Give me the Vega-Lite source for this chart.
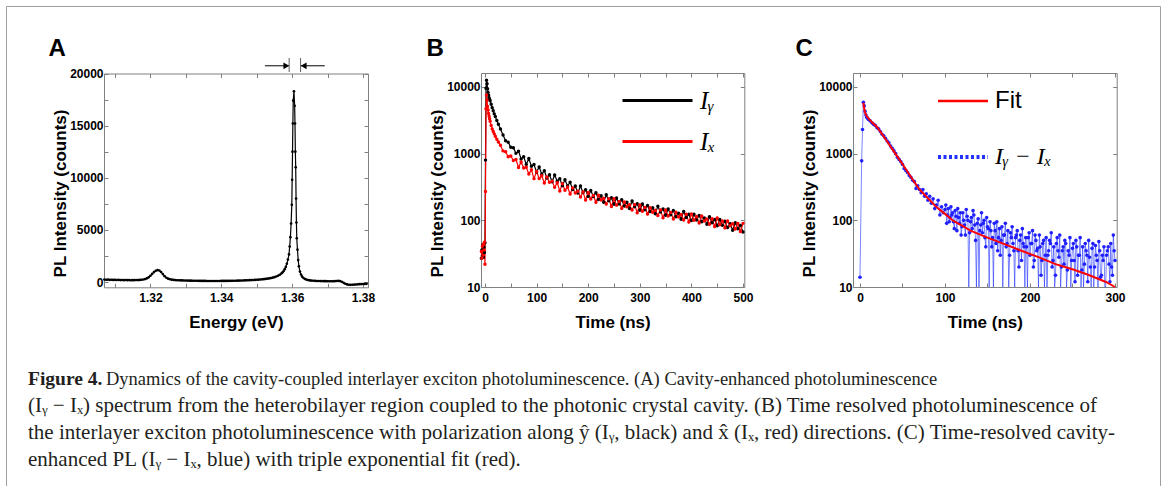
{
  "$schema": "https://vega.github.io/schema/vega-lite/v6.json",
  "width": 1154,
  "height": 480,
  "autosize": {"type": "none"},
  "padding": {"left": 6, "top": 6, "right": 3, "bottom": 0},
  "background": "white",
  "config": {
    "view": {"stroke": "#a0a0a0", "strokeWidth": 1},
    "axis": {
      "labelFont": "Liberation Sans", "labelFontWeight": "bold", "labelFontSize": 12, "labelColor": "black",
      "titleFont": "Liberation Sans", "titleFontWeight": "bold", "titleFontSize": 17, "titleColor": "black",
      "domainColor": "#808080", "tickColor": "#808080", "grid": false, "labelFlush": false, "labelOverlap": false, "tickSize": -4
    }
  },
  "datasets": {
    "spectrum": [
      {"energy":1.3070,"counts":240},{"energy":1.3075,"counts":215},{"energy":1.3080,"counts":230},{"energy":1.3085,"counts":205},{"energy":1.3090,"counts":220},{"energy":1.3095,"counts":200},{"energy":1.3100,"counts":210},{"energy":1.3105,"counts":195},{"energy":1.3110,"counts":205},{"energy":1.3115,"counts":185},{"energy":1.3120,"counts":195},{"energy":1.3125,"counts":180},{"energy":1.3130,"counts":190},{"energy":1.3135,"counts":175},{"energy":1.3140,"counts":185},{"energy":1.3145,"counts":170},{"energy":1.3150,"counts":180},{"energy":1.3155,"counts":175},{"energy":1.3160,"counts":190},{"energy":1.3165,"counts":185},{"energy":1.3170,"counts":200},{"energy":1.3175,"counts":215},{"energy":1.3180,"counts":240},{"energy":1.3185,"counts":280},{"energy":1.3190,"counts":350},{"energy":1.3195,"counts":450},{"energy":1.3200,"counts":600},{"energy":1.3205,"counts":780},{"energy":1.3210,"counts":950},{"energy":1.3215,"counts":1080},{"energy":1.3220,"counts":1140},{"energy":1.3225,"counts":1100},{"energy":1.3230,"counts":960},{"energy":1.3235,"counts":760},{"energy":1.3240,"counts":560},{"energy":1.3245,"counts":410},{"energy":1.3250,"counts":320},{"energy":1.3255,"counts":260},{"energy":1.3260,"counts":225},{"energy":1.3265,"counts":200},{"energy":1.3270,"counts":185},{"energy":1.3275,"counts":170},{"energy":1.3280,"counts":165},{"energy":1.3285,"counts":155},{"energy":1.3290,"counts":150},{"energy":1.3295,"counts":145},{"energy":1.3300,"counts":140},{"energy":1.3305,"counts":135},{"energy":1.3310,"counts":132},{"energy":1.3315,"counts":128},{"energy":1.3320,"counts":125},{"energy":1.3325,"counts":120},{"energy":1.3330,"counts":118},{"energy":1.3335,"counts":114},{"energy":1.3340,"counts":110},{"energy":1.3345,"counts":108},{"energy":1.3350,"counts":105},{"energy":1.3355,"counts":102},{"energy":1.3360,"counts":100},{"energy":1.3365,"counts":98},{"energy":1.3370,"counts":96},{"energy":1.3375,"counts":95},{"energy":1.3380,"counts":95},{"energy":1.3385,"counts":96},{"energy":1.3390,"counts":98},{"energy":1.3395,"counts":100},{"energy":1.3400,"counts":102},{"energy":1.3405,"counts":104},{"energy":1.3410,"counts":106},{"energy":1.3415,"counts":108},{"energy":1.3420,"counts":111},{"energy":1.3425,"counts":114},{"energy":1.3430,"counts":117},{"energy":1.3435,"counts":121},{"energy":1.3440,"counts":125},{"energy":1.3445,"counts":130},{"energy":1.3450,"counts":135},{"energy":1.3455,"counts":140},{"energy":1.3460,"counts":146},{"energy":1.3465,"counts":152},{"energy":1.3470,"counts":159},{"energy":1.3475,"counts":166},{"energy":1.3480,"counts":174},{"energy":1.3485,"counts":182},{"energy":1.3490,"counts":192},{"energy":1.3495,"counts":202},{"energy":1.3500,"counts":214},{"energy":1.3505,"counts":226},{"energy":1.3510,"counts":240},{"energy":1.3515,"counts":256},{"energy":1.3520,"counts":274},{"energy":1.3525,"counts":295},{"energy":1.3530,"counts":318},{"energy":1.3535,"counts":345},{"energy":1.3540,"counts":378},{"energy":1.3545,"counts":418},{"energy":1.3550,"counts":465},{"energy":1.3555,"counts":525},{"energy":1.3560,"counts":600},{"energy":1.3565,"counts":700},{"energy":1.3570,"counts":830},{"energy":1.3573,"counts":930},{"energy":1.3576,"counts":1060},{"energy":1.3579,"counts":1230},{"energy":1.3582,"counts":1450},{"energy":1.3585,"counts":1750},{"energy":1.3588,"counts":2150},{"energy":1.3591,"counts":2650},{"energy":1.3593,"counts":3400},{"energy":1.3595,"counts":4300},{"energy":1.3597,"counts":5600},{"energy":1.3599,"counts":7400},{"energy":1.3600,"counts":9800},{"energy":1.3601,"counts":12500},{"energy":1.3602,"counts":15200},{"energy":1.3603,"counts":17400},{"energy":1.3605,"counts":18300},{"energy":1.3607,"counts":16900},{"energy":1.3608,"counts":15200},{"energy":1.3609,"counts":12500},{"energy":1.3610,"counts":11000},{"energy":1.3611,"counts":8000},{"energy":1.3612,"counts":5700},{"energy":1.3613,"counts":4200},{"energy":1.3615,"counts":3100},{"energy":1.3617,"counts":2100},{"energy":1.3619,"counts":1500},{"energy":1.3622,"counts":1000},{"energy":1.3625,"counts":720},{"energy":1.3628,"counts":520},{"energy":1.3632,"counts":380},{"energy":1.3636,"counts":290},{"energy":1.3640,"counts":230},{"energy":1.3645,"counts":185},{"energy":1.3650,"counts":155},{"energy":1.3655,"counts":135},{"energy":1.3660,"counts":120},{"energy":1.3665,"counts":110},{"energy":1.3670,"counts":100},{"energy":1.3675,"counts":95},{"energy":1.3680,"counts":90},{"energy":1.3685,"counts":85},{"energy":1.3690,"counts":80},{"energy":1.3695,"counts":78},{"energy":1.3700,"counts":75},{"energy":1.3705,"counts":72},{"energy":1.3710,"counts":70},{"energy":1.3715,"counts":72},{"energy":1.3720,"counts":80},{"energy":1.3725,"counts":95},{"energy":1.3730,"counts":105},{"energy":1.3735,"counts":90},{"energy":1.3740,"counts":20},{"energy":1.3745,"counts":-80},{"energy":1.3750,"counts":-170},{"energy":1.3755,"counts":-230},{"energy":1.3760,"counts":-260},{"energy":1.3765,"counts":-270},{"energy":1.3770,"counts":-265},{"energy":1.3775,"counts":-250},{"energy":1.3780,"counts":-240},{"energy":1.3785,"counts":-225},{"energy":1.3790,"counts":-210},{"energy":1.3795,"counts":-200},{"energy":1.3800,"counts":-190},{"energy":1.3805,"counts":-180},{"energy":1.3810,"counts":-175}
    ],
    "decay": [
      {"t":-7,"counts":27,"series":"Iᵧ"},{"t":-6,"counts":36,"series":"Iᵧ"},{"t":-5,"counts":30,"series":"Iᵧ"},{"t":-4,"counts":43,"series":"Iᵧ"},{"t":-3,"counts":28,"series":"Iᵧ"},{"t":-2,"counts":39,"series":"Iᵧ"},{"t":-1,"counts":33,"series":"Iᵧ"},{"t":0,"counts":46,"series":"Iᵧ"},{"t":1,"counts":800,"series":"Iᵧ"},{"t":2,"counts":9600,"series":"Iᵧ"},{"t":3,"counts":12600,"series":"Iᵧ"},{"t":4,"counts":11200,"series":"Iᵧ"},{"t":5,"counts":9400,"series":"Iᵧ"},{"t":6,"counts":8300,"series":"Iᵧ"},{"t":7,"counts":7500,"series":"Iᵧ"},{"t":8,"counts":6900,"series":"Iᵧ"},{"t":9,"counts":6500,"series":"Iᵧ"},{"t":10,"counts":6200,"series":"Iᵧ"},{"t":12,"counts":5500,"series":"Iᵧ"},{"t":14,"counts":4900,"series":"Iᵧ"},{"t":16,"counts":4400,"series":"Iᵧ"},{"t":18,"counts":3950,"series":"Iᵧ"},{"t":20,"counts":3600,"series":"Iᵧ"},{"t":23,"counts":3150,"series":"Iᵧ"},{"t":26,"counts":2750,"series":"Iᵧ"},{"t":30,"counts":2350,"series":"Iᵧ"},
      {"t":35,"counts":1900,"series":"Iᵧ"},{"t":40,"counts":1560,"series":"Iᵧ"},{"t":45,"counts":1480,"series":"Iᵧ"},{"t":50,"counts":1250,"series":"Iᵧ"},{"t":55,"counts":1230,"series":"Iᵧ"},{"t":60,"counts":1010,"series":"Iᵧ"},{"t":65,"counts":1090,"series":"Iᵧ"},{"t":70,"counts":830,"series":"Iᵧ"},{"t":75,"counts":900,"series":"Iᵧ"},{"t":80,"counts":690,"series":"Iᵧ"},{"t":85,"counts":845,"series":"Iᵧ"},{"t":90,"counts":645,"series":"Iᵧ"},{"t":95,"counts":685,"series":"Iᵧ"},{"t":100,"counts":530,"series":"Iᵧ"},{"t":105,"counts":633,"series":"Iᵧ"},{"t":110,"counts":493,"series":"Iᵧ"},{"t":115,"counts":555,"series":"Iᵧ"},{"t":120,"counts":432,"series":"Iᵧ"},{"t":125,"counts":483,"series":"Iᵧ"},{"t":130,"counts":378,"series":"Iᵧ"},{"t":135,"counts":479,"series":"Iᵧ"},{"t":140,"counts":385,"series":"Iᵧ"},{"t":145,"counts":421,"series":"Iᵧ"},{"t":150,"counts":330,"series":"Iᵧ"},{"t":155,"counts":405,"series":"Iᵧ"},{"t":160,"counts":327,"series":"Iᵧ"},{"t":165,"counts":372,"series":"Iᵧ"},{"t":170,"counts":290,"series":"Iᵧ"},{"t":175,"counts":326,"series":"Iᵧ"},{"t":180,"counts":256,"series":"Iᵧ"},{"t":185,"counts":327,"series":"Iᵧ"},{"t":190,"counts":261,"series":"Iᵧ"},{"t":195,"counts":288,"series":"Iᵧ"},{"t":200,"counts":227,"series":"Iᵧ"},{"t":205,"counts":280,"series":"Iᵧ"},{"t":210,"counts":228,"series":"Iᵧ"},{"t":215,"counts":260,"series":"Iᵧ"},{"t":220,"counts":206,"series":"Iᵧ"},{"t":225,"counts":234,"series":"Iᵧ"},{"t":230,"counts":187,"series":"Iᵧ"},{"t":235,"counts":241,"series":"Iᵧ"},{"t":240,"counts":196,"series":"Iᵧ"},{"t":245,"counts":218,"series":"Iᵧ"},{"t":250,"counts":174,"series":"Iᵧ"},{"t":255,"counts":216,"series":"Iᵧ"},{"t":260,"counts":176,"series":"Iᵧ"},{"t":265,"counts":204,"series":"Iᵧ"},{"t":270,"counts":164,"series":"Iᵧ"},{"t":275,"counts":187,"series":"Iᵧ"},{"t":280,"counts":150,"series":"Iᵧ"},{"t":285,"counts":195,"series":"Iᵧ"},{"t":290,"counts":160,"series":"Iᵧ"},{"t":295,"counts":177,"series":"Iᵧ"},{"t":300,"counts":142,"series":"Iᵧ"},{"t":305,"counts":176,"series":"Iᵧ"},{"t":310,"counts":144,"series":"Iᵧ"},{"t":315,"counts":167,"series":"Iᵧ"},{"t":320,"counts":135,"series":"Iᵧ"},{"t":325,"counts":154,"series":"Iᵧ"},{"t":330,"counts":125,"series":"Iᵧ"},{"t":335,"counts":162,"series":"Iᵧ"},{"t":340,"counts":133,"series":"Iᵧ"},{"t":345,"counts":148,"series":"Iᵧ"},{"t":350,"counts":119,"series":"Iᵧ"},{"t":355,"counts":148,"series":"Iᵧ"},{"t":360,"counts":121,"series":"Iᵧ"},{"t":365,"counts":140,"series":"Iᵧ"},{"t":370,"counts":113,"series":"Iᵧ"},{"t":375,"counts":128,"series":"Iᵧ"},{"t":380,"counts":104,"series":"Iᵧ"},{"t":385,"counts":136,"series":"Iᵧ"},{"t":390,"counts":110,"series":"Iᵧ"},{"t":395,"counts":123,"series":"Iᵧ"},{"t":400,"counts":99,"series":"Iᵧ"},{"t":405,"counts":123,"series":"Iᵧ"},{"t":410,"counts":101,"series":"Iᵧ"},{"t":415,"counts":118,"series":"Iᵧ"},{"t":420,"counts":95,"series":"Iᵧ"},{"t":425,"counts":108,"series":"Iᵧ"},{"t":430,"counts":87,"series":"Iᵧ"},{"t":435,"counts":113,"series":"Iᵧ"},{"t":440,"counts":92,"series":"Iᵧ"},{"t":445,"counts":103,"series":"Iᵧ"},{"t":450,"counts":83,"series":"Iᵧ"},{"t":455,"counts":103,"series":"Iᵧ"},{"t":460,"counts":84,"series":"Iᵧ"},{"t":465,"counts":97,"series":"Iᵧ"},{"t":470,"counts":78,"series":"Iᵧ"},{"t":475,"counts":89,"series":"Iᵧ"},{"t":480,"counts":71,"series":"Iᵧ"},{"t":485,"counts":92,"series":"Iᵧ"},{"t":490,"counts":75,"series":"Iᵧ"},{"t":495,"counts":84,"series":"Iᵧ"},{"t":500,"counts":67,"series":"Iᵧ"},
      {"t":-7,"counts":34,"series":"Iₓ"},{"t":-6,"counts":27,"series":"Iₓ"},{"t":-5,"counts":41,"series":"Iₓ"},{"t":-4,"counts":30,"series":"Iₓ"},{"t":-3,"counts":44,"series":"Iₓ"},{"t":-2,"counts":36,"series":"Iₓ"},{"t":-1,"counts":47,"series":"Iₓ"},{"t":0,"counts":22,"series":"Iₓ"},{"t":1,"counts":270,"series":"Iₓ"},{"t":2,"counts":4700,"series":"Iₓ"},{"t":3,"counts":7600,"series":"Iₓ"},{"t":4,"counts":6300,"series":"Iₓ"},{"t":5,"counts":5100,"series":"Iₓ"},{"t":6,"counts":4500,"series":"Iₓ"},{"t":7,"counts":4000,"series":"Iₓ"},{"t":8,"counts":3650,"series":"Iₓ"},{"t":9,"counts":3350,"series":"Iₓ"},{"t":10,"counts":3050,"series":"Iₓ"},{"t":12,"counts":2650,"series":"Iₓ"},{"t":14,"counts":2350,"series":"Iₓ"},{"t":16,"counts":2150,"series":"Iₓ"},{"t":18,"counts":1980,"series":"Iₓ"},{"t":20,"counts":1820,"series":"Iₓ"},{"t":23,"counts":1650,"series":"Iₓ"},{"t":26,"counts":1500,"series":"Iₓ"},{"t":30,"counts":1340,"series":"Iₓ"},
      {"t":35,"counts":1100,"series":"Iₓ"},{"t":40,"counts":1070,"series":"Iₓ"},{"t":45,"counts":900,"series":"Iₓ"},{"t":50,"counts":920,"series":"Iₓ"},{"t":55,"counts":790,"series":"Iₓ"},{"t":60,"counts":820,"series":"Iₓ"},{"t":65,"counts":619,"series":"Iₓ"},{"t":70,"counts":748,"series":"Iₓ"},{"t":75,"counts":608,"series":"Iₓ"},{"t":80,"counts":624,"series":"Iₓ"},{"t":85,"counts":497,"series":"Iₓ"},{"t":90,"counts":572,"series":"Iₓ"},{"t":95,"counts":422,"series":"Iₓ"},{"t":100,"counts":538,"series":"Iₓ"},{"t":105,"counts":423,"series":"Iₓ"},{"t":110,"counts":466,"series":"Iₓ"},{"t":115,"counts":364,"series":"Iₓ"},{"t":120,"counts":446,"series":"Iₓ"},{"t":125,"counts":371,"series":"Iₓ"},{"t":130,"counts":387,"series":"Iₓ"},{"t":135,"counts":312,"series":"Iₓ"},{"t":140,"counts":367,"series":"Iₓ"},{"t":145,"counts":276,"series":"Iₓ"},{"t":150,"counts":354,"series":"Iₓ"},{"t":155,"counts":282,"series":"Iₓ"},{"t":160,"counts":316,"series":"Iₓ"},{"t":165,"counts":248,"series":"Iₓ"},{"t":170,"counts":306,"series":"Iₓ"},{"t":175,"counts":257,"series":"Iₓ"},{"t":180,"counts":272,"series":"Iₓ"},{"t":185,"counts":224,"series":"Iₓ"},{"t":190,"counts":265,"series":"Iₓ"},{"t":195,"counts":201,"series":"Iₓ"},{"t":200,"counts":261,"series":"Iₓ"},{"t":205,"counts":209,"series":"Iₓ"},{"t":210,"counts":235,"series":"Iₓ"},{"t":215,"counts":187,"series":"Iₓ"},{"t":220,"counts":237,"series":"Iₓ"},{"t":225,"counts":201,"series":"Iₓ"},{"t":230,"counts":214,"series":"Iₓ"},{"t":235,"counts":176,"series":"Iₓ"},{"t":240,"counts":211,"series":"Iₓ"},{"t":245,"counts":161,"series":"Iₓ"},{"t":250,"counts":211,"series":"Iₓ"},{"t":255,"counts":169,"series":"Iₓ"},{"t":260,"counts":191,"series":"Iₓ"},{"t":265,"counts":151,"series":"Iₓ"},{"t":270,"counts":189,"series":"Iₓ"},{"t":275,"counts":160,"series":"Iₓ"},{"t":280,"counts":172,"series":"Iₓ"},{"t":285,"counts":143,"series":"Iₓ"},{"t":290,"counts":172,"series":"Iₓ"},{"t":295,"counts":130,"series":"Iₓ"},{"t":300,"counts":170,"series":"Iₓ"},{"t":305,"counts":137,"series":"Iₓ"},{"t":310,"counts":156,"series":"Iₓ"},{"t":315,"counts":124,"series":"Iₓ"},{"t":320,"counts":155,"series":"Iₓ"},{"t":325,"counts":132,"series":"Iₓ"},{"t":330,"counts":142,"series":"Iₓ"},{"t":335,"counts":118,"series":"Iₓ"},{"t":340,"counts":143,"series":"Iₓ"},{"t":345,"counts":109,"series":"Iₓ"},{"t":350,"counts":143,"series":"Iₓ"},{"t":355,"counts":116,"series":"Iₓ"},{"t":360,"counts":131,"series":"Iₓ"},{"t":365,"counts":105,"series":"Iₓ"},{"t":370,"counts":132,"series":"Iₓ"},{"t":375,"counts":112,"series":"Iₓ"},{"t":380,"counts":122,"series":"Iₓ"},{"t":385,"counts":101,"series":"Iₓ"},{"t":390,"counts":123,"series":"Iₓ"},{"t":395,"counts":94,"series":"Iₓ"},{"t":400,"counts":124,"series":"Iₓ"},{"t":405,"counts":100,"series":"Iₓ"},{"t":410,"counts":114,"series":"Iₓ"},{"t":415,"counts":91,"series":"Iₓ"},{"t":420,"counts":116,"series":"Iₓ"},{"t":425,"counts":98,"series":"Iₓ"},{"t":430,"counts":105,"series":"Iₓ"},{"t":435,"counts":87,"series":"Iₓ"},{"t":440,"counts":106,"series":"Iₓ"},{"t":445,"counts":81,"series":"Iₓ"},{"t":450,"counts":108,"series":"Iₓ"},{"t":455,"counts":86,"series":"Iₓ"},{"t":460,"counts":98,"series":"Iₓ"},{"t":465,"counts":77,"series":"Iₓ"},{"t":470,"counts":98,"series":"Iₓ"},{"t":475,"counts":83,"series":"Iₓ"},{"t":480,"counts":89,"series":"Iₓ"},{"t":485,"counts":74,"series":"Iₓ"},{"t":490,"counts":90,"series":"Iₓ"},{"t":495,"counts":68,"series":"Iₓ"},{"t":500,"counts":90,"series":"Iₓ"}
    ],
    "cavity": [
      {"t":0,"counts":14,"series":"Iᵧ − Iₓ"},{"t":2,"counts":780,"series":"Iᵧ − Iₓ"},{"t":3,"counts":2300,"series":"Iᵧ − Iₓ"},{"t":4,"counts":5900,"series":"Iᵧ − Iₓ"},{"t":5,"counts":5200,"series":"Iᵧ − Iₓ"},{"t":6,"counts":4300,"series":"Iᵧ − Iₓ"},{"t":7,"counts":3800,"series":"Iᵧ − Iₓ"},{"t":8,"counts":3500,"series":"Iᵧ − Iₓ"},{"t":9,"counts":3400,"series":"Iᵧ − Iₓ"},{"t":10,"counts":3250,"series":"Iᵧ − Iₓ"},{"t":12,"counts":3100,"series":"Iᵧ − Iₓ"},{"t":14,"counts":2900,"series":"Iᵧ − Iₓ"},{"t":16,"counts":2750,"series":"Iᵧ − Iₓ"},{"t":18,"counts":2650,"series":"Iᵧ − Iₓ"},{"t":20,"counts":2450,"series":"Iᵧ − Iₓ"},{"t":22,"counts":2350,"series":"Iᵧ − Iₓ"},{"t":24,"counts":2150,"series":"Iᵧ − Iₓ"},{"t":26,"counts":1950,"series":"Iᵧ − Iₓ"},{"t":28,"counts":1850,"series":"Iᵧ − Iₓ"},{"t":30,"counts":1700,"series":"Iᵧ − Iₓ"},{"t":32,"counts":1550,"series":"Iᵧ − Iₓ"},{"t":34,"counts":1450,"series":"Iᵧ − Iₓ"},{"t":36,"counts":1300,"series":"Iᵧ − Iₓ"},{"t":38,"counts":1200,"series":"Iᵧ − Iₓ"},{"t":40,"counts":1100,"series":"Iᵧ − Iₓ"},{"t":42,"counts":1000,"series":"Iᵧ − Iₓ"},{"t":44,"counts":880,"series":"Iᵧ − Iₓ"},{"t":46,"counts":820,"series":"Iᵧ − Iₓ"},{"t":48,"counts":760,"series":"Iᵧ − Iₓ"},{"t":50,"counts":690,"series":"Iᵧ − Iₓ"},{"t":52,"counts":600,"series":"Iᵧ − Iₓ"},{"t":54,"counts":560,"series":"Iᵧ − Iₓ"},{"t":56,"counts":520,"series":"Iᵧ − Iₓ"},{"t":58,"counts":470,"series":"Iᵧ − Iₓ"},{"t":60,"counts":440,"series":"Iᵧ − Iₓ"},{"t":62,"counts":400,"series":"Iᵧ − Iₓ"},{"t":64,"counts":380,"series":"Iᵧ − Iₓ"},{"t":66,"counts":300,"series":"Iᵧ − Iₓ"},{"t":68,"counts":330,"series":"Iᵧ − Iₓ"},{"t":70,"counts":290,"series":"Iᵧ − Iₓ"},{"t":72,"counts":260,"series":"Iᵧ − Iₓ"},{"t":74,"counts":290,"series":"Iᵧ − Iₓ"},{"t":76,"counts":230,"series":"Iᵧ − Iₓ"},{"t":78,"counts":250,"series":"Iᵧ − Iₓ"},{"t":80,"counts":200,"series":"Iᵧ − Iₓ"},{"t":82,"counts":230,"series":"Iᵧ − Iₓ"},{"t":84,"counts":180,"series":"Iᵧ − Iₓ"},{"t":86,"counts":210,"series":"Iᵧ − Iₓ"},{"t":88,"counts":150,"series":"Iᵧ − Iₓ"},{"t":90,"counts":170,"series":"Iᵧ − Iₓ"},{"t":92,"counts":200,"series":"Iᵧ − Iₓ"},{"t":94,"counts":120,"series":"Iᵧ − Iₓ"},{"t":96,"counts":160,"series":"Iᵧ − Iₓ"},{"t":98,"counts":130,"series":"Iᵧ − Iₓ"},{"t":100,"counts":145,"series":"Iᵧ − Iₓ"},{"t":102,"counts":90,"series":"Iᵧ − Iₓ"},{"t":104,"counts":150,"series":"Iᵧ − Iₓ"},{"t":106,"counts":110,"series":"Iᵧ − Iₓ"},{"t":108,"counts":120,"series":"Iᵧ − Iₓ"},{"t":110,"counts":95,"series":"Iᵧ − Iₓ"},{"t":112,"counts":140,"series":"Iᵧ − Iₓ"},{"t":114,"counts":70,"series":"Iᵧ − Iₓ"},{"t":116,"counts":110,"series":"Iᵧ − Iₓ"},{"t":118,"counts":130,"series":"Iᵧ − Iₓ"},{"t":120,"counts":80,"series":"Iᵧ − Iₓ"},{"t":122,"counts":100,"series":"Iᵧ − Iₓ"},{"t":124,"counts":60,"series":"Iᵧ − Iₓ"},{"t":126,"counts":115,"series":"Iᵧ − Iₓ"},{"t":128,"counts":8,"series":"Iᵧ − Iₓ"},{"t":130,"counts":95,"series":"Iᵧ − Iₓ"},{"t":132,"counts":75,"series":"Iᵧ − Iₓ"},{"t":134,"counts":120,"series":"Iᵧ − Iₓ"},{"t":136,"counts":50,"series":"Iᵧ − Iₓ"},{"t":138,"counts":90,"series":"Iᵧ − Iₓ"},{"t":140,"counts":6,"series":"Iᵧ − Iₓ"},{"t":142,"counts":85,"series":"Iᵧ − Iₓ"},{"t":144,"counts":65,"series":"Iᵧ − Iₓ"},{"t":146,"counts":100,"series":"Iᵧ − Iₓ"},{"t":148,"counts":40,"series":"Iᵧ − Iₓ"},{"t":150,"counts":80,"series":"Iᵧ − Iₓ"},{"t":152,"counts":7,"series":"Iᵧ − Iₓ"},{"t":154,"counts":70,"series":"Iᵧ − Iₓ"},{"t":156,"counts":55,"series":"Iᵧ − Iₓ"},{"t":158,"counts":90,"series":"Iᵧ − Iₓ"},{"t":160,"counts":45,"series":"Iᵧ − Iₓ"},{"t":162,"counts":35,"series":"Iᵧ − Iₓ"},{"t":164,"counts":75,"series":"Iᵧ − Iₓ"},{"t":166,"counts":50,"series":"Iᵧ − Iₓ"},{"t":168,"counts":8,"series":"Iᵧ − Iₓ"},{"t":170,"counts":60,"series":"Iᵧ − Iₓ"},{"t":172,"counts":40,"series":"Iᵧ − Iₓ"},{"t":174,"counts":70,"series":"Iᵧ − Iₓ"},{"t":176,"counts":30,"series":"Iᵧ − Iₓ"},{"t":178,"counts":55,"series":"Iᵧ − Iₓ"},{"t":180,"counts":45,"series":"Iᵧ − Iₓ"},{"t":182,"counts":5,"series":"Iᵧ − Iₓ"},{"t":184,"counts":60,"series":"Iᵧ − Iₓ"},{"t":186,"counts":35,"series":"Iᵧ − Iₓ"},{"t":188,"counts":50,"series":"Iᵧ − Iₓ"},{"t":190,"counts":25,"series":"Iᵧ − Iₓ"},{"t":192,"counts":45,"series":"Iᵧ − Iₓ"},{"t":194,"counts":8,"series":"Iᵧ − Iₓ"},{"t":196,"counts":40,"series":"Iᵧ − Iₓ"},{"t":198,"counts":55,"series":"Iᵧ − Iₓ"},{"t":200,"counts":30,"series":"Iᵧ − Iₓ"},{"t":202,"counts":45,"series":"Iᵧ − Iₓ"},{"t":204,"counts":20,"series":"Iᵧ − Iₓ"},{"t":206,"counts":60,"series":"Iᵧ − Iₓ"},{"t":208,"counts":35,"series":"Iᵧ − Iₓ"},{"t":210,"counts":7,"series":"Iᵧ − Iₓ"},{"t":212,"counts":40,"series":"Iᵧ − Iₓ"},{"t":214,"counts":25,"series":"Iᵧ − Iₓ"},{"t":216,"counts":50,"series":"Iᵧ − Iₓ"},{"t":218,"counts":30,"series":"Iᵧ − Iₓ"},{"t":220,"counts":6,"series":"Iᵧ − Iₓ"},{"t":222,"counts":35,"series":"Iᵧ − Iₓ"},{"t":224,"counts":45,"series":"Iᵧ − Iₓ"},{"t":226,"counts":20,"series":"Iᵧ − Iₓ"},{"t":228,"counts":40,"series":"Iᵧ − Iₓ"},{"t":230,"counts":15,"series":"Iᵧ − Iₓ"},{"t":232,"counts":55,"series":"Iᵧ − Iₓ"},{"t":234,"counts":28,"series":"Iᵧ − Iₓ"},{"t":236,"counts":8,"series":"Iᵧ − Iₓ"},{"t":238,"counts":35,"series":"Iᵧ − Iₓ"},{"t":240,"counts":22,"series":"Iᵧ − Iₓ"},{"t":242,"counts":45,"series":"Iᵧ − Iₓ"},{"t":244,"counts":18,"series":"Iᵧ − Iₓ"},{"t":246,"counts":30,"series":"Iᵧ − Iₓ"},{"t":248,"counts":6,"series":"Iᵧ − Iₓ"},{"t":250,"counts":38,"series":"Iᵧ − Iₓ"},{"t":252,"counts":25,"series":"Iᵧ − Iₓ"},{"t":254,"counts":50,"series":"Iᵧ − Iₓ"},{"t":256,"counts":15,"series":"Iᵧ − Iₓ"},{"t":258,"counts":30,"series":"Iᵧ − Iₓ"},{"t":260,"counts":8,"series":"Iᵧ − Iₓ"},{"t":262,"counts":40,"series":"Iᵧ − Iₓ"},{"t":264,"counts":22,"series":"Iᵧ − Iₓ"},{"t":266,"counts":35,"series":"Iᵧ − Iₓ"},{"t":268,"counts":12,"series":"Iᵧ − Iₓ"},{"t":270,"counts":28,"series":"Iᵧ − Iₓ"},{"t":272,"counts":7,"series":"Iᵧ − Iₓ"},{"t":274,"counts":45,"series":"Iᵧ − Iₓ"},{"t":276,"counts":20,"series":"Iᵧ − Iₓ"},{"t":278,"counts":30,"series":"Iᵧ − Iₓ"},{"t":280,"counts":9,"series":"Iᵧ − Iₓ"},{"t":282,"counts":35,"series":"Iᵧ − Iₓ"},{"t":284,"counts":15,"series":"Iᵧ − Iₓ"},{"t":286,"counts":25,"series":"Iᵧ − Iₓ"},{"t":288,"counts":6,"series":"Iᵧ − Iₓ"},{"t":290,"counts":30,"series":"Iᵧ − Iₓ"},{"t":292,"counts":40,"series":"Iᵧ − Iₓ"},{"t":294,"counts":12,"series":"Iᵧ − Iₓ"},{"t":296,"counts":20,"series":"Iᵧ − Iₓ"},{"t":298,"counts":60,"series":"Iᵧ − Iₓ"},{"t":300,"counts":25,"series":"Iᵧ − Iₓ"},
      {"t":101,"counts":170,"series":"Iᵧ − Iₓ"},{"t":103,"counts":120,"series":"Iᵧ − Iₓ"},{"t":105,"counts":95,"series":"Iᵧ − Iₓ"},{"t":107,"counts":160,"series":"Iᵧ − Iₓ"},{"t":109,"counts":130,"series":"Iᵧ − Iₓ"},{"t":111,"counts":75,"series":"Iᵧ − Iₓ"},{"t":113,"counts":115,"series":"Iᵧ − Iₓ"},{"t":115,"counts":150,"series":"Iᵧ − Iₓ"},{"t":117,"counts":90,"series":"Iᵧ − Iₓ"},{"t":119,"counts":60,"series":"Iᵧ − Iₓ"},{"t":121,"counts":130,"series":"Iᵧ − Iₓ"},{"t":123,"counts":85,"series":"Iᵧ − Iₓ"},{"t":125,"counts":145,"series":"Iᵧ − Iₓ"},{"t":127,"counts":100,"series":"Iᵧ − Iₓ"},{"t":129,"counts":65,"series":"Iᵧ − Iₓ"},{"t":131,"counts":110,"series":"Iᵧ − Iₓ"},{"t":133,"counts":140,"series":"Iᵧ − Iₓ"},{"t":135,"counts":85,"series":"Iᵧ − Iₓ"},{"t":137,"counts":9,"series":"Iᵧ − Iₓ"},{"t":139,"counts":105,"series":"Iᵧ − Iₓ"},{"t":141,"counts":70,"series":"Iᵧ − Iₓ"},{"t":143,"counts":130,"series":"Iᵧ − Iₓ"},{"t":145,"counts":90,"series":"Iᵧ − Iₓ"},{"t":147,"counts":55,"series":"Iᵧ − Iₓ"},{"t":149,"counts":110,"series":"Iᵧ − Iₓ"},{"t":151,"counts":75,"series":"Iᵧ − Iₓ"},{"t":153,"counts":95,"series":"Iᵧ − Iₓ"},{"t":155,"counts":40,"series":"Iᵧ − Iₓ"},{"t":157,"counts":8,"series":"Iᵧ − Iₓ"},{"t":159,"counts":70,"series":"Iᵧ − Iₓ"},{"t":161,"counts":95,"series":"Iᵧ − Iₓ"},{"t":163,"counts":55,"series":"Iᵧ − Iₓ"},{"t":165,"counts":30,"series":"Iᵧ − Iₓ"},{"t":167,"counts":80,"series":"Iᵧ − Iₓ"},{"t":169,"counts":60,"series":"Iᵧ − Iₓ"},{"t":171,"counts":90,"series":"Iᵧ − Iₓ"},{"t":173,"counts":45,"series":"Iᵧ − Iₓ"},{"t":175,"counts":7,"series":"Iᵧ − Iₓ"},{"t":177,"counts":65,"series":"Iᵧ − Iₓ"},{"t":179,"counts":80,"series":"Iᵧ − Iₓ"},{"t":181,"counts":35,"series":"Iᵧ − Iₓ"},{"t":183,"counts":55,"series":"Iᵧ − Iₓ"},{"t":185,"counts":70,"series":"Iᵧ − Iₓ"},{"t":187,"counts":20,"series":"Iᵧ − Iₓ"},{"t":189,"counts":60,"series":"Iᵧ − Iₓ"},{"t":191,"counts":75,"series":"Iᵧ − Iₓ"},{"t":193,"counts":40,"series":"Iᵧ − Iₓ"},{"t":195,"counts":55,"series":"Iᵧ − Iₓ"},{"t":197,"counts":9,"series":"Iᵧ − Iₓ"},{"t":199,"counts":65,"series":"Iᵧ − Iₓ"},{"t":201,"counts":45,"series":"Iᵧ − Iₓ"},{"t":203,"counts":70,"series":"Iᵧ − Iₓ"},{"t":205,"counts":25,"series":"Iᵧ − Iₓ"},{"t":207,"counts":50,"series":"Iᵧ − Iₓ"},{"t":209,"counts":38,"series":"Iᵧ − Iₓ"},{"t":211,"counts":60,"series":"Iᵧ − Iₓ"},{"t":213,"counts":15,"series":"Iᵧ − Iₓ"},{"t":215,"counts":45,"series":"Iᵧ − Iₓ"},{"t":217,"counts":7,"series":"Iᵧ − Iₓ"},{"t":219,"counts":55,"series":"Iᵧ − Iₓ"},{"t":221,"counts":30,"series":"Iᵧ − Iₓ"},{"t":223,"counts":50,"series":"Iᵧ − Iₓ"},{"t":225,"counts":65,"series":"Iᵧ − Iₓ"},{"t":227,"counts":25,"series":"Iᵧ − Iₓ"},{"t":229,"counts":8,"series":"Iᵧ − Iₓ"},{"t":231,"counts":45,"series":"Iᵧ − Iₓ"},{"t":233,"counts":35,"series":"Iᵧ − Iₓ"},{"t":235,"counts":60,"series":"Iᵧ − Iₓ"},{"t":237,"counts":20,"series":"Iᵧ − Iₓ"},{"t":239,"counts":40,"series":"Iᵧ − Iₓ"},{"t":241,"counts":50,"series":"Iᵧ − Iₓ"},{"t":243,"counts":6,"series":"Iᵧ − Iₓ"},{"t":245,"counts":35,"series":"Iᵧ − Iₓ"},{"t":247,"counts":55,"series":"Iᵧ − Iₓ"},{"t":249,"counts":25,"series":"Iᵧ − Iₓ"},{"t":251,"counts":45,"series":"Iᵧ − Iₓ"},{"t":253,"counts":12,"series":"Iᵧ − Iₓ"},{"t":255,"counts":40,"series":"Iᵧ − Iₓ"},{"t":257,"counts":30,"series":"Iᵧ − Iₓ"},{"t":259,"counts":55,"series":"Iᵧ − Iₓ"},{"t":261,"counts":18,"series":"Iᵧ − Iₓ"},{"t":263,"counts":9,"series":"Iᵧ − Iₓ"},{"t":265,"counts":45,"series":"Iᵧ − Iₓ"},{"t":267,"counts":30,"series":"Iᵧ − Iₓ"},{"t":269,"counts":50,"series":"Iᵧ − Iₓ"},{"t":271,"counts":20,"series":"Iᵧ − Iₓ"},{"t":273,"counts":38,"series":"Iᵧ − Iₓ"},{"t":275,"counts":8,"series":"Iᵧ − Iₓ"},{"t":277,"counts":42,"series":"Iᵧ − Iₓ"},{"t":279,"counts":25,"series":"Iᵧ − Iₓ"},{"t":281,"counts":48,"series":"Iᵧ − Iₓ"},{"t":283,"counts":14,"series":"Iᵧ − Iₓ"},{"t":285,"counts":30,"series":"Iᵧ − Iₓ"},{"t":287,"counts":40,"series":"Iᵧ − Iₓ"},{"t":289,"counts":7,"series":"Iᵧ − Iₓ"},{"t":291,"counts":35,"series":"Iᵧ − Iₓ"},{"t":293,"counts":22,"series":"Iᵧ − Iₓ"},{"t":295,"counts":45,"series":"Iᵧ − Iₓ"},{"t":297,"counts":15,"series":"Iᵧ − Iₓ"},{"t":299,"counts":35,"series":"Iᵧ − Iₓ"},
      {"t":4,"counts":5800,"series":"Fit"},{"t":5,"counts":4700,"series":"Fit"},{"t":6,"counts":4100,"series":"Fit"},{"t":8,"counts":3630,"series":"Fit"},{"t":12,"counts":3150,"series":"Fit"},{"t":16,"counts":2800,"series":"Fit"},{"t":20,"counts":2510,"series":"Fit"},{"t":25,"counts":2050,"series":"Fit"},{"t":31,"counts":1585,"series":"Fit"},{"t":37,"counts":1220,"series":"Fit"},{"t":43,"counts":944,"series":"Fit"},{"t":50,"counts":700,"series":"Fit"},{"t":60,"counts":447,"series":"Fit"},{"t":70,"counts":290,"series":"Fit"},{"t":80,"counts":214,"series":"Fit"},{"t":90,"counts":158,"series":"Fit"},{"t":100,"counts":125,"series":"Fit"},{"t":110,"counts":98,"series":"Fit"},{"t":120,"counts":83,"series":"Fit"},{"t":130,"counts":70,"series":"Fit"},{"t":150,"counts":55,"series":"Fit"},{"t":170,"counts":44,"series":"Fit"},{"t":190,"counts":35,"series":"Fit"},{"t":210,"counts":28,"series":"Fit"},{"t":230,"counts":22,"series":"Fit"},{"t":250,"counts":18.5,"series":"Fit"},{"t":270,"counts":15,"series":"Fit"},{"t":290,"counts":11.8,"series":"Fit"},{"t":300,"counts":10,"series":"Fit"}
    ],
    "caption": [
      {"line":1,"seg":"start","kind":"label","text":"Figure 4."},
      {"line":1,"seg":"after","kind":"body","text":"Dynamics of the cavity-coupled interlayer exciton photoluminescence. (A) Cavity-enhanced photoluminescence"},
      {"line":2,"seg":"start","kind":"body","text":"(Iᵧ − Iₓ) spectrum from the heterobilayer region coupled to the photonic crystal cavity. (B) Time resolved photoluminescence of"},
      {"line":3,"seg":"start","kind":"body","text":"the interlayer exciton photoluminescence with polarization along ŷ (Iᵧ, black) and x̂ (Iₓ, red) directions. (C) Time-resolved cavity-"},
      {"line":4,"seg":"start","kind":"body","text":"enhanced PL (Iᵧ − Iₓ, blue) with triple exponential fit (red)."}
    ]
  },
  "layer": [
    {
      "data": {"name": "spectrum"},
      "resolve": {"axis": {"x": "independent", "y": "independent"}},
      "layer": [
        {
          "mark": {"type": "line", "color": "black", "strokeWidth": 1.2},
          "encoding": {
            "x": {"field": "energy", "type": "quantitative",
                  "scale": {"domain": [1.3069, 1.3814], "range": [98, 362], "nice": false, "zero": false},
                  "axis": {"orient": "bottom", "offset": -198.7, "values": [1.31,1.32,1.33,1.34,1.35,1.36,1.37,1.38], "format": ".2f",
                           "labelExpr": "round(datum.value*100) % 2 === 0 ? datum.label : ''", "labelPadding": 9,
                           "title": "Energy (eV)", "titleX": 230, "titleY": 40, "titleAlign": "center", "titleBaseline": "alphabetic"}},
            "y": {"field": "counts", "type": "quantitative",
                  "scale": {"domain": [-508, 20000], "range": [281.3, 67.5], "nice": false, "zero": false},
                  "axis": {"orient": "left", "offset": -98, "values": [0,2500,5000,7500,10000,12500,15000,17500,20000], "format": "d",
                           "labelExpr": "datum.value % 5000 === 0 ? datum.label : ''", "labelPadding": 5,
                           "title": "PL Intensity (counts)", "titleX": -39, "titleY": 187, "titleAlign": "center", "titleBaseline": "alphabetic", "titleAngle": -90}}
          }
        },
        {
          "mark": {"type": "point", "filled": true, "color": "black", "size": 7, "opacity": 1},
          "encoding": {
            "x": {"field": "energy", "type": "quantitative",
                  "axis": {"orient": "top", "offset": -67.5, "values": [1.31,1.32,1.33,1.34,1.35,1.36,1.37,1.38], "labels": false,
                           "title": "A", "titleX": 42, "titleY": -18.5, "titleAlign": "left", "titleBaseline": "alphabetic", "titleFontSize": 24, "titleAngle": 0}},
            "y": {"field": "counts", "type": "quantitative",
                  "axis": {"orient": "right", "offset": -792, "values": [0,2500,5000,7500,10000,12500,15000,17500,20000], "labels": false, "title": null}}
          }
        },
        {
          "data": {"values": [{}]},
          "mark": {"type": "rule", "color": "black", "strokeWidth": 1},
          "encoding": {"x": {"datum": 1.3523, "type": "quantitative", "axis": null}, "x2": {"datum": 1.3590}, "y": {"datum": 20740, "type": "quantitative", "axis": null}}
        },
        {
          "data": {"values": [{}]},
          "mark": {"type": "rule", "color": "black", "strokeWidth": 1},
          "encoding": {"x": {"datum": 1.3624, "type": "quantitative", "axis": null}, "x2": {"datum": 1.3692}, "y": {"datum": 20740, "type": "quantitative", "axis": null}}
        },
        {
          "data": {"values": [{}]},
          "mark": {"type": "rule", "color": "#606060", "strokeWidth": 1},
          "encoding": {"x": {"datum": 1.35915, "type": "quantitative", "axis": null}, "y": {"datum": 20140, "type": "quantitative", "axis": null}, "y2": {"datum": 21490}}
        },
        {
          "data": {"values": [{}]},
          "mark": {"type": "rule", "color": "#606060", "strokeWidth": 1},
          "encoding": {"x": {"datum": 1.36237, "type": "quantitative", "axis": null}, "y": {"datum": 20140, "type": "quantitative", "axis": null}, "y2": {"datum": 21490}}
        },
        {
          "data": {"values": [{}]},
          "mark": {"type": "point", "shape": "triangle-right", "filled": true, "color": "black", "size": 45, "opacity": 1},
          "encoding": {"x": {"datum": 1.35835, "type": "quantitative", "axis": null}, "y": {"datum": 20740, "type": "quantitative", "axis": null}}
        },
        {
          "data": {"values": [{}]},
          "mark": {"type": "point", "shape": "triangle-left", "filled": true, "color": "black", "size": 45, "opacity": 1},
          "encoding": {"x": {"datum": 1.36325, "type": "quantitative", "axis": null}, "y": {"datum": 20740, "type": "quantitative", "axis": null}}
        }
      ]
    },
    {
      "data": {"name": "decay"},
      "resolve": {"axis": {"x": "independent", "y": "independent"}},
      "layer": [
        {
          "mark": {"type": "line", "strokeWidth": 1.2},
          "encoding": {
            "x": {"field": "t", "type": "quantitative",
                  "scale": {"domain": [-7.7, 502.5], "range": [475, 738.3], "nice": false, "zero": false},
                  "axis": {"orient": "bottom", "offset": -199, "values": [0,50,100,150,200,250,300,350,400,450,500], "format": "d",
                           "labelExpr": "datum.value % 100 === 0 ? datum.label : ''", "labelPadding": 9,
                           "title": "Time (ns)", "titleX": 606.6, "titleY": 40, "titleAlign": "center", "titleBaseline": "alphabetic"}},
            "y": {"field": "counts", "type": "quantitative",
                  "scale": {"type": "log", "domain": [10, 16200], "range": [281, 67], "nice": false},
                  "axis": {"orient": "left", "offset": -475, "values": [10,100,1000,10000], "format": "d", "labelPadding": 5,
                           "title": "PL Intensity (counts)", "titleX": -39, "titleY": 187, "titleAlign": "center", "titleBaseline": "alphabetic", "titleAngle": -90}},
            "color": {"field": "series", "type": "nominal",
                      "scale": {"domain": ["Iᵧ", "Iₓ"], "range": ["#000000", "#ff0000"]},
                      "legend": {"orient": "none", "legendX": 625, "legendY": 68, "title": null, "direction": "vertical",
                                 "symbolType": "M-1.4,0H1.4", "symbolSize": 2500, "symbolStrokeWidth": 3, "symbolOpacity": 1,
                                 "labelFont": "Liberation Serif", "labelFontStyle": "italic", "labelFontSize": 25, "labelColor": "black",
                                 "rowPadding": 1, "labelOffset": 16, "padding": 0}}
          }
        },
        {
          "mark": {"type": "point", "filled": true, "size": 12, "strokeWidth": 0, "opacity": 1},
          "encoding": {
            "x": {"field": "t", "type": "quantitative",
                  "axis": {"orient": "top", "offset": -67, "values": [0,50,100,150,200,250,300,350,400,450,500], "labels": false,
                           "title": "B", "titleX": 420, "titleY": -18, "titleAlign": "left", "titleBaseline": "alphabetic", "titleFontSize": 24, "titleAngle": 0}},
            "y": {"field": "counts", "type": "quantitative",
                  "axis": {"orient": "right", "offset": -415.7, "values": [10,100,1000,10000], "labels": false, "title": null}},
            "fill": {"field": "series", "type": "nominal", "scale": {"domain": ["Iᵧ", "Iₓ"], "range": ["#000000", "#ff0000"]}, "legend": null}
          }
        }
      ]
    },
    {
      "data": {"name": "cavity"},
      "resolve": {"axis": {"x": "independent", "y": "independent"}},
      "layer": [
        {
          "transform": [{"filter": "datum.series !== 'Fit'"}],
          "mark": {"type": "line", "strokeWidth": 1, "opacity": 0.6},
          "encoding": {
            "x": {"field": "t", "type": "quantitative",
                  "scale": {"domain": [-8.2, 302], "range": [847, 1110.7], "nice": false, "zero": false},
                  "axis": {"orient": "bottom", "offset": -199, "values": [0,50,100,150,200,250,300], "format": "d",
                           "labelExpr": "datum.value % 100 === 0 ? datum.label : ''", "labelPadding": 9,
                           "title": "Time (ns)", "titleX": 978.8, "titleY": 40, "titleAlign": "center", "titleBaseline": "alphabetic"}},
            "y": {"field": "counts", "type": "quantitative",
                  "scale": {"type": "log", "domain": [10, 16200], "range": [281, 67], "nice": false, "clamp": true},
                  "axis": {"orient": "left", "offset": -847, "values": [10,100,1000,10000], "format": "d", "labelPadding": 5,
                           "title": "PL Intensity (counts)", "titleX": -39, "titleY": 187, "titleAlign": "center", "titleBaseline": "alphabetic", "titleAngle": -90}},
            "color": {"field": "series", "type": "nominal",
                      "scale": {"domain": ["Fit", "Iᵧ − Iₓ"], "range": ["#ff0000", "#2233ff"]},
                      "legend": {"orient": "none", "legendX": 945, "legendY": 83, "title": null, "direction": "vertical",
                                 "symbolType": "stroke", "symbolSize": 2500, "symbolStrokeWidth": 3, "symbolOpacity": 1,
                                 "labelFont": "Liberation Serif", "labelFontStyle": "italic", "labelFontSize": 24, "labelColor": "black",
                                 "rowPadding": 32, "labelOffset": 20, "padding": 0,
                                 "encode": {
                                   "symbols": {"update": {"strokeDash": {"signal": "datum.value === 'Fit' ? [] : [3, 2.5]"}, "strokeWidth": {"signal": "datum.value === 'Fit' ? 2.5 : 4"}}},
                                   "labels": {"update": {"font": {"signal": "datum.value === 'Fit' ? 'Liberation Sans' : 'Liberation Serif'"}, "fontStyle": {"signal": "datum.value === 'Fit' ? 'normal' : 'italic'"}}}
                                 }}}
          }
        },
        {
          "transform": [{"filter": "datum.series !== 'Fit' && datum.counts >= 10"}],
          "mark": {"type": "point", "filled": true, "size": 13, "color": "#1f1fff", "opacity": 1},
          "encoding": {
            "x": {"field": "t", "type": "quantitative",
                  "axis": {"orient": "top", "offset": -67, "values": [0,50,100,150,200,250,300], "labels": false,
                           "title": "C", "titleX": 789, "titleY": -18, "titleAlign": "left", "titleBaseline": "alphabetic", "titleFontSize": 24, "titleAngle": 0}},
            "y": {"field": "counts", "type": "quantitative",
                  "axis": {"orient": "right", "offset": -43.3, "values": [10,100,1000,10000], "labels": false, "title": null}}
          }
        },
        {
          "transform": [{"filter": "datum.series === 'Fit'"}],
          "mark": {"type": "line", "strokeWidth": 2},
          "encoding": {
            "x": {"field": "t", "type": "quantitative", "axis": null},
            "y": {"field": "counts", "type": "quantitative", "axis": null},
            "color": {"field": "series", "type": "nominal"}
          }
        }
      ]
    },
    {
      "data": {"name": "caption"},
      "encoding": {
        "x": {"field": "seg", "type": "nominal", "scale": {"type": "point", "domain": ["start", "after"], "range": [22, 100], "padding": 0}, "axis": null},
        "y": {"field": "line", "type": "ordinal", "scale": {"type": "point", "domain": [1, 2, 3, 4], "range": [373, 454], "padding": 0}, "axis": null},
        "text": {"field": "text"}
      },
      "layer": [
        {"transform": [{"filter": "datum.kind === 'label'"}],
         "mark": {"type": "text", "align": "left", "baseline": "middle", "font": "Liberation Serif", "fontWeight": "bold", "fontSize": 19.5, "color": "#231f20"}},
        {"transform": [{"filter": "datum.seg === 'after'"}],
         "mark": {"type": "text", "align": "left", "baseline": "middle", "font": "Liberation Serif", "fontSize": 18.5, "color": "#231f20"}},
        {"transform": [{"filter": "datum.kind === 'body' && datum.seg === 'start'"}],
         "mark": {"type": "text", "align": "left", "baseline": "middle", "font": "Liberation Serif", "fontSize": 21, "color": "#231f20"}}
      ]
    }
  ],
  "resolve": {"scale": {"x": "independent", "y": "independent", "color": "independent", "fill": "independent"}}
}
